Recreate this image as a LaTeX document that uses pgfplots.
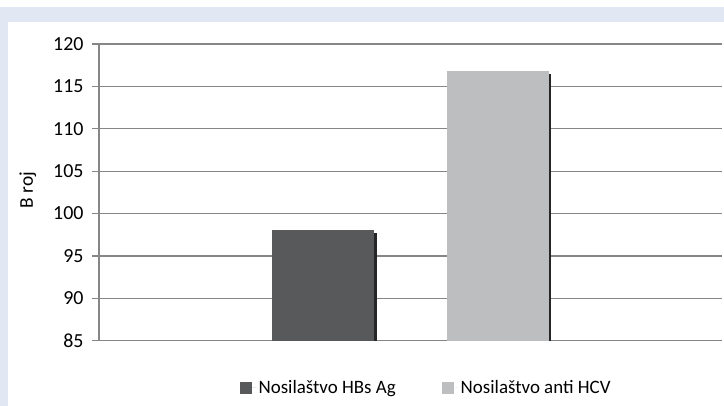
\documentclass[border=0pt]{standalone}
\usepackage{pgfplots}
\pgfplotsset{compat=1.18}
\usepackage{fontspec}
\setmainfont{Carlito}
\usetikzlibrary{shadows}
\definecolor{bandblue}{HTML}{E1E8F4}
\definecolor{gridgray}{HTML}{868686}
\definecolor{darkbar}{HTML}{58595B}
\definecolor{lightbar}{HTML}{BCBEC0}
\begin{document}
\fontsize{19}{23}\selectfont
\begin{tikzpicture}
\useasboundingbox (0,0) rectangle (724bp,406bp);
\fill[white] (0,0) rectangle (724bp,406bp);
\fill[bandblue] (0,399bp) rectangle (724bp,384bp);
\fill[bandblue] (0,0) rectangle (8bp,399bp);
\begin{axis}[
    at={(99bp,65.3bp)}, anchor=south west,
    scale only axis,
    width=623bp, height=296.7bp,
    xmin=-0.29, xmax=3.29,
    ymin=85, ymax=120,
    ytick={85,90,...,120},
    xtick=\empty,
    axis lines=left,
    axis line style={-, draw=gridgray, line width=1.2bp},
    ymajorgrids=true,
    grid style={draw=gridgray, line width=1.2bp},
    tick align=outside,
    major tick length=7bp,
    ytick style={draw=gridgray, line width=1.2bp},
    yticklabel style={font=\fontsize{20}{24}\selectfont, xshift=-2bp},
    /pgf/number format/assume math mode=true,
    ylabel={B roj},
    ylabel style={font=\fontsize{19.5}{23}\selectfont, at={(-0.114,0.508)}, anchor=center},
    ybar, bar width=102bp,
    legend columns=2,
    legend style={at={(0.525,-0.159)}, anchor=center, draw=none, fill=none,
        font=\fontsize{19}{23}\selectfont,
        /tikz/every even column/.append style={column sep=44bp}},
    legend image code/.code={\fill[#1] (0bp,-6bp) rectangle (12bp,6bp); \path (0bp,0bp) -- (17bp,0bp);},
]
\addplot[fill=darkbar, draw=none, bar shift=0pt, forget plot,
    drop shadow={shadow xshift=2.5bp, shadow yshift=-2.5bp, opacity=1, fill=black!85}]
    coordinates {(1,98)};
\addplot[fill=lightbar, draw=none, bar shift=0pt, forget plot,
    drop shadow={shadow xshift=2.5bp, shadow yshift=-2.5bp, opacity=1, fill=black!85}]
    coordinates {(2,116.8)};
\addlegendimage{fill=darkbar, draw=none}
\addlegendimage{fill=lightbar, draw=none}
\legend{Nosilaštvo HBs Ag, Nosilaštvo anti HCV}
\end{axis}
\end{tikzpicture}
\end{document}
